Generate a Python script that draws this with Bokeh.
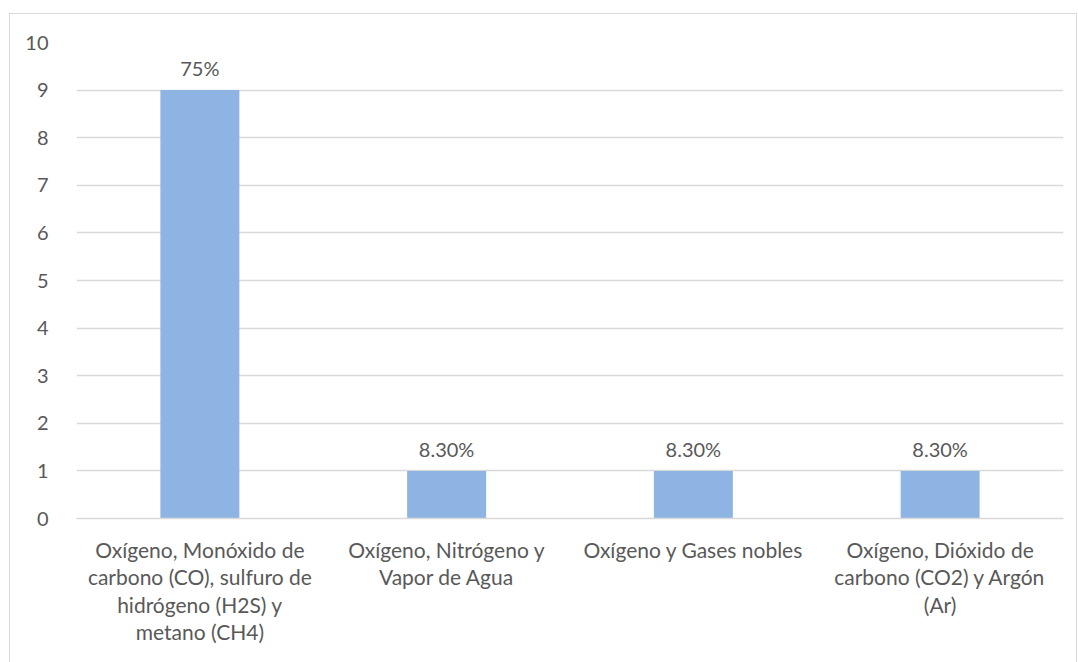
from bokeh.plotting import figure
from bokeh.models import ColumnDataSource, Range1d, FixedTicker, LabelSet
from bokeh.core.properties import value
from bokeh.embed import file_html
from bokeh.resources import INLINE

categories = [
    "Oxígeno, Monóxido de\ncarbono (CO), sulfuro de\nhidrógeno (H2S) y\nmetano (CH4)",
    "Oxígeno, Nitrógeno y\nVapor de Agua",
    "Oxígeno y Gases nobles",
    "Oxígeno, Dióxido de\ncarbono (CO2) y Argón\n(Ar)",
]
values = [9, 1, 1, 1]
bar_labels = ["75%", "8.30%", "8.30%", "8.30%"]
y_ticks = list(range(0, 11))

FONT = "Lato"
TXT = "#595959"

src = ColumnDataSource(dict(cat=categories, val=values, lab=bar_labels))

p = figure(x_range=categories, y_range=Range1d(0, 10),
           width=1068, height=650, output_backend="svg", toolbar_location=None,
           min_border_left=66, min_border_top=28, min_border_right=15, min_border_bottom=146)
p.styles = {"border": "1px solid #d9d9d9", "margin-left": "9px", "margin-top": "13px"}
p.outline_line_color = None

p.vbar(x="cat", top="val", width=0.32, source=src, fill_color="#8EB4E3", line_color=None)

labels = LabelSet(x="cat", y="val", text="lab", source=src, text_align="center",
                  text_baseline="bottom", y_offset=10, text_font=value(FONT),
                  text_font_size=value("20px"), text_color=TXT)
p.add_layout(labels)

p.xgrid.grid_line_color = None
p.ygrid.grid_line_color = "#d9d9d9"
p.ygrid.grid_line_width = 1.5
p.yaxis.ticker = FixedTicker(ticks=y_ticks)
p.yaxis.axis_line_color = None
p.yaxis.major_tick_line_color = None
p.yaxis.minor_tick_line_color = None
p.yaxis.major_label_standoff = 22
p.yaxis.major_label_text_font_size = "20px"
p.xaxis.axis_line_color = "#d9d9d9"
p.xaxis.axis_line_width = 1.5
p.xaxis.major_tick_line_color = None
p.xaxis.major_label_standoff = 12
p.xaxis.major_label_text_font_size = "21px"
for ax in (p.xaxis, p.yaxis):
    ax.major_label_text_font = FONT
    ax.major_label_text_color = TXT
p.xaxis.major_label_text_line_height = 1.1

open("out.html", "w").write(file_html(p, INLINE))
